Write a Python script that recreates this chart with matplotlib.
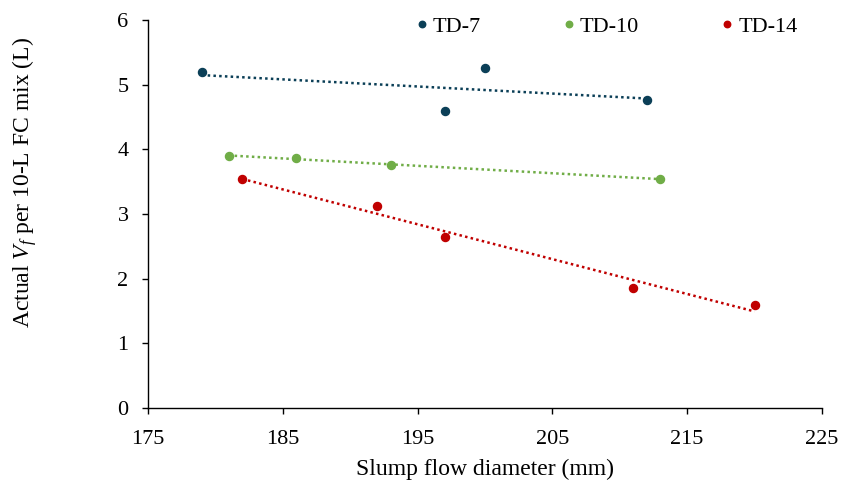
import numpy as np
import matplotlib
matplotlib.use("Agg")
import matplotlib.pyplot as plt

plt.rcParams['font.family'] = ['Liberation Serif', 'DejaVu Serif']
plt.rcParams['mathtext.fontset'] = 'custom'
plt.rcParams['mathtext.rm'] = 'Liberation Serif'
plt.rcParams['mathtext.it'] = 'Liberation Serif:italic'

# slump flow diameter (mm) vs actual fibre volume
td7_x = [179, 197, 200, 212]
td7_y = [5.19, 4.59, 5.25, 4.77]
td10_x = [181, 186, 193, 213]
td10_y = [3.90, 3.86, 3.76, 3.54]
td14_x = [182, 192, 197, 211, 220]
td14_y = [3.54, 3.12, 2.64, 1.86, 1.59]

series = [
    ("TD-7", td7_x, td7_y, "#0B3F57"),
    ("TD-10", td10_x, td10_y, "#70AD47"),
    ("TD-14", td14_x, td14_y, "#C00000"),
]

fig = plt.figure(figsize=(8.42, 4.84), dpi=100)
ax = fig.add_axes([0.1758, 0.157, 0.8004, 0.8017])

for name, x, y, c in series:
    x = np.array(x, dtype=float)
    y = np.array(y, dtype=float)
    ax.plot(x, y, 'o', color=c, markersize=5.8, label=name, zorder=3)
    # linear trendline
    k, b = np.polyfit(x, y, 1)
    xs = np.array([x.min(), x.max()])
    ax.plot(xs, k * xs + b, linestyle=(0, (1, 1.3)), color=c, linewidth=1.8, zorder=2)

ax.set_xlim(175, 225)
ax.set_ylim(0, 6)
ax.set_xticks(np.arange(175, 226, 10))
ax.set_yticks(np.arange(0, 7, 1))
ax.spines['top'].set_visible(False)
ax.spines['right'].set_visible(False)
for s in ['left', 'bottom']:
    ax.spines[s].set_linewidth(1.0)
ax.tick_params(axis='both', direction='out', length=4, width=1.0, labelsize=16)
ax.tick_params(axis='y', pad=10)
ax.tick_params(axis='x', pad=12)

ax.set_xlabel("Slump flow diameter (mm)", fontsize=17)
ax.set_ylabel(r"Actual $\mathit{V_f}$ per 10-L FC mix (L)", fontsize=17)
ax.xaxis.set_label_coords(0.5, -0.13)
ax.yaxis.set_label_coords(-0.162, 0.58)

leg = ax.legend(loc='center left', bbox_to_anchor=(0.398, 0.982), ncol=3, frameon=False,
                fontsize=16, handletextpad=0.25, columnspacing=3.7, markerscale=0.8,
                handlelength=0.5, borderpad=0, borderaxespad=0)

fig.savefig("out.png", dpi=100)
